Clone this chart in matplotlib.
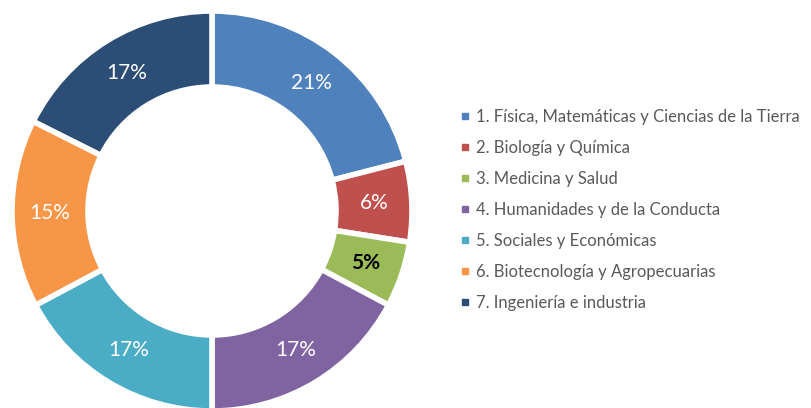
import matplotlib
matplotlib.use("Agg")
import matplotlib.pyplot as plt
from matplotlib.lines import Line2D
import numpy as np

categories = [
    "1. Física, Matemáticas y Ciencias de la Tierra",
    "2. Biología y Química",
    "3. Medicina y Salud",
    "4. Humanidades y de la Conducta",
    "5. Sociales y Económicas",
    "6. Biotecnología y Agropecuarias",
    "7. Ingeniería e industria",
]
shares = [21.0, 6.5, 5.3, 17.2, 17.2, 15.2, 17.6]
pct_labels = ["21%", "6%", "5%", "17%", "17%", "15%", "17%"]
colors = ["#4F81BD", "#C0504D", "#9BBB59", "#8064A2", "#4BACC6", "#F79646", "#2C4D75"]

plt.rcParams['font.family'] = ['Lato', 'DejaVu Sans']

fig = plt.figure(figsize=(8.11, 4.08), dpi=100)
ax = fig.add_axes([12/811, -3/408, 400/811, 400/408])
wedges, _ = ax.pie(shares, colors=colors, startangle=90, counterclock=False,
                   radius=1.0,
                   wedgeprops=dict(width=0.38, edgecolor="white", linewidth=4))
ax.set_xlim(-1, 1)
ax.set_ylim(-1, 1)
ax.set_aspect('equal')
ax.axis('off')

total = sum(shares)
cum = 0
for i, (v, lab) in enumerate(zip(shares, pct_labels)):
    mid = 90 - (cum + v / 2) / total * 360
    cum += v
    r = 0.81
    x, y = r * np.cos(np.radians(mid)), r * np.sin(np.radians(mid))
    if i == 2:
        ax.text(x, y, lab, ha='center', va='center', fontsize=15, color='black', fontweight='bold')
    else:
        ax.text(x, y, lab, ha='center', va='center', fontsize=15, color='white')

handles = [Line2D([0], [0], marker='s', linestyle='none', markersize=5,
                  markerfacecolor=c, markeredgecolor=c) for c in colors]
leg = fig.legend(handles, categories, loc='center left',
                 bbox_to_anchor=(452/811, 198/408), frameon=False,
                 fontsize=12, labelspacing=0.9, handlelength=0.6,
                 handletextpad=0.35, borderpad=0)
for t in leg.get_texts():
    t.set_color("#595959")

fig.savefig("out.png", dpi=100)
